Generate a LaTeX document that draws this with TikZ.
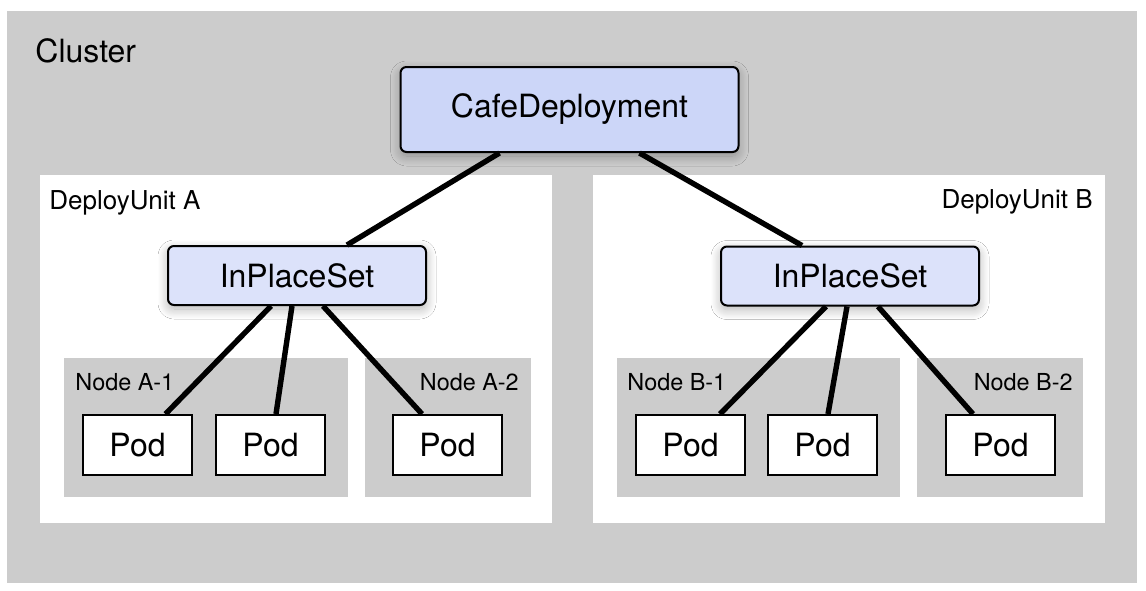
\documentclass[tikz,border=0pt]{standalone}
\usepackage{fontspec}
\setmainfont{TeX Gyre Heros}
\usetikzlibrary{shadows.blur}
\definecolor{boxgray}{RGB}{204,204,204}
\definecolor{cafeblue}{RGB}{204,214,248}
\definecolor{setblue}{RGB}{220,226,250}
\begin{document}
\begin{tikzpicture}[x=0.5pt,y=-0.5pt,
  ctrl/.style={draw,line width=1pt,rounded corners=3pt,inner sep=0pt,
    font=\fontsize{16}{19}\selectfont,
    blur shadow={shadow xshift=0pt,shadow yshift=-2pt,shadow blur radius=5pt,
      shadow blur steps=12,shadow opacity=30}},
  pod/.style={draw,line width=1pt,fill=white,minimum width=54.5pt,minimum height=30pt,
    inner sep=0pt,font=\fontsize{16}{19}\selectfont},
  lbl/.style={inner sep=0pt,font=\fontsize{11.7}{14}\selectfont},
  link/.style={line width=2.7pt}]
\useasboundingbox (0,0) rectangle (1146,590);
\fill[white] (0,0) rectangle (1146,590);
\fill[boxgray] (7,11) rectangle (1137,583);
\fill[white] (40,175) rectangle (552,523);
\fill[white] (593,175) rectangle (1105,523);
\fill[boxgray] (64,358) rectangle (348,497);
\fill[boxgray] (365,358) rectangle (531,497);
\fill[boxgray] (617,358) rectangle (900,497);
\fill[boxgray] (917,358) rectangle (1083,497);
\node[lbl,anchor=base west,font=\fontsize{16}{19}\selectfont] (cluster) at (35,62) {Cluster};
\node[lbl,anchor=base west,font=\fontsize{13}{16}\selectfont] (unitA) at (49,209) {DeployUnit A};
\node[lbl,anchor=base east,font=\fontsize{13}{16}\selectfont] (unitB) at (1093,208) {DeployUnit B};
\node[lbl,anchor=base west] (hostA1) at (75,390) {Node A-1};
\node[lbl,anchor=base east] (hostA2) at (519,390) {Node A-2};
\node[lbl,anchor=base west] (hostB1) at (627,390) {Node B-1};
\node[lbl,anchor=base east] (hostB2) at (1073,390) {Node B-2};
\node[ctrl,fill=cafeblue,minimum width=169pt,minimum height=42.5pt] (cafe) at (569.5,109.5) {CafeDeployment};
\node[ctrl,fill=setblue,minimum width=129pt,minimum height=29.5pt] (setA) at (297,275.5) {InPlaceSet};
\node[ctrl,fill=setblue,minimum width=129pt,minimum height=29.5pt] (setB) at (850,276) {InPlaceSet};
\node[pod] (podA1) at (137.5,445) {Pod};
\node[pod] (podA2) at (270.5,445) {Pod};
\node[pod] (podA3) at (447.5,445) {Pod};
\node[pod] (podB1) at (690.5,445) {Pod};
\node[pod] (podB2) at (822.5,445) {Pod};
\node[pod] (podB3) at (1000.5,445) {Pod};
\draw[link] ([xshift=-35pt]cafe.south) -- ([xshift=25pt]setA.north);
\draw[link] ([xshift=35pt]cafe.south) -- ([xshift=-24pt]setB.north);
\draw[link] ([xshift=-13pt]setA.south) -- ([xshift=14pt]podA1.north);
\draw[link] ([xshift=-2.5pt]setA.south) -- ([xshift=2.75pt]podA2.north);
\draw[link] ([xshift=13pt]setA.south) -- ([xshift=-12.75pt]podA3.north);
\draw[link] ([xshift=-12pt]setB.south) -- ([xshift=14.75pt]podB1.north);
\draw[link] ([xshift=-1.5pt]setB.south) -- ([xshift=2.75pt]podB2.north);
\draw[link] ([xshift=14pt]setB.south) -- ([xshift=-13.75pt]podB3.north);
\end{tikzpicture}
\end{document}
